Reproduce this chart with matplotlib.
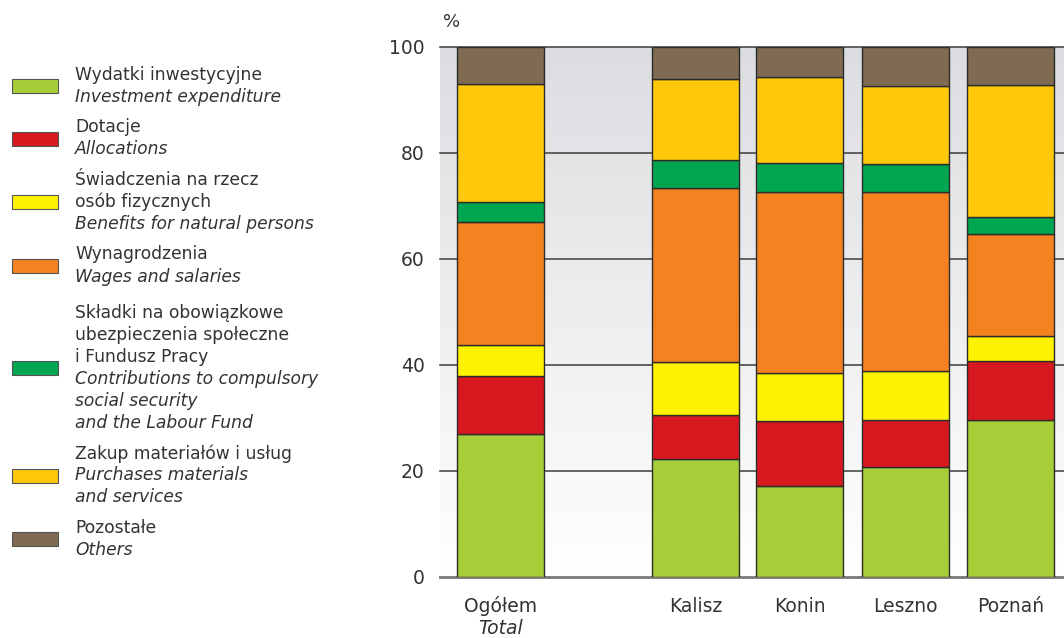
import numpy as np
import matplotlib
matplotlib.use("Agg")
import matplotlib.pyplot as plt
from matplotlib.patches import Rectangle
from matplotlib.colors import LinearSegmentedColormap

# kategorie (oś X)
kategorie = ["Ogółem", "Kalisz", "Konin", "Leszno", "Poznań"]
kategorie_en = ["Total", "", "", "", ""]

# udziały [%] kolejnych składników, od dołu słupka
wydatki_inw = [27.0, 22.3, 17.1, 20.7, 29.6]
dotacje = [10.9, 8.3, 12.4, 9.0, 11.2]
swiadczenia = [5.9, 9.9, 8.9, 9.1, 4.6]
wynagrodzenia = [23.2, 32.9, 34.3, 33.8, 19.4]
skladki = [3.8, 5.3, 5.5, 5.4, 3.1]
zakup = [22.2, 15.2, 16.1, 14.6, 24.9]
pozostale = [7.0, 6.1, 5.7, 7.4, 7.2]

serie = [wydatki_inw, dotacje, swiadczenia, wynagrodzenia, skladki, zakup, pozostale]
kolory = ["#a6ce39", "#d7191f", "#fff200", "#f58220", "#00a650", "#ffc80a", "#7f6a52"]

legenda_pl = [
    ["Wydatki inwestycyjne"],
    ["Dotacje"],
    ["Świadczenia na rzecz", "osób fizycznych"],
    ["Wynagrodzenia"],
    ["Składki na obowiązkowe", "ubezpieczenia społeczne", "i Fundusz Pracy"],
    ["Zakup materiałów i usług"],
    ["Pozostałe"],
]
legenda_en = [
    ["Investment expenditure"],
    ["Allocations"],
    ["Benefits for natural persons"],
    ["Wages and salaries"],
    ["Contributions to compulsory", "social security", "and the Labour Fund"],
    ["Purchases materials", "and services"],
    ["Others"],
]

W, H = 1064, 638
fig = plt.figure(figsize=(W / 100, H / 100), dpi=100)
ax = fig.add_axes([440 / W, 1 - 577 / H, 1 - 440 / W, 530 / H])

pozycje = np.array([0, 1.86, 2.85, 3.86, 4.86])
szer = 0.83
tekst = "#333333"

# tło z gradientem
cmap = LinearSegmentedColormap.from_list("tlo", ["#ffffff", "#dcdde0"])
grad = np.linspace(0, 1, 256).reshape(-1, 1)
ax.imshow(grad, aspect="auto", cmap=cmap, origin="lower",
          extent=[-0.58, 5.37, 0, 100], zorder=0)

# linie siatki
for y in [20, 40, 60, 80, 100]:
    ax.axhline(y, color="#4a4a4a", lw=1.2, zorder=1, clip_on=False)
ax.axhline(0, color="#777777", lw=2, zorder=1, clip_on=False)

dol = np.zeros(len(kategorie))
for wart, kol in zip(serie, kolory):
    ax.bar(pozycje, wart, szer, bottom=dol, color=kol, edgecolor="#2b2b2b",
           linewidth=1.0, zorder=3)
    dol += np.array(wart)

ax.set_xlim(-0.576, 5.367)
ax.set_ylim(0, 100)
for s in ax.spines.values():
    s.set_visible(False)
ax.set_xticks([])
ax.set_yticks([0, 20, 40, 60, 80, 100])
ax.tick_params(axis="y", length=0, pad=11, labelsize=13.5, labelcolor=tekst)

fig.text(452 / W, 1 - 22 / H, "%", fontsize=13, color=tekst,
         ha="center", va="center")

for x, pl, en in zip(pozycje, kategorie, kategorie_en):
    xf = ax.transData.transform((x, 0))[0] / W
    fig.text(xf, 1 - 606 / H, pl, ha="center", va="center", fontsize=13.5,
             color=tekst)
    if en:
        fig.text(xf, 1 - 628 / H, en, ha="center", va="center", fontsize=13.5,
                 color=tekst, style="italic")

# legenda rysowana ręcznie
krok = 22
y = 75
for i, (kol, pl, en) in enumerate(zip(kolory, legenda_pl, legenda_en)):
    linie = [(t, "normal") for t in pl] + [(t, "italic") for t in en]
    if i == 4:
        y += 6
    srodek = y + krok * (len(linie) - 1) / 2
    fig.patches.append(Rectangle((12 / W, 1 - (srodek + 7) / H), 46 / W, 14 / H,
                                 transform=fig.transFigure, facecolor=kol,
                                 edgecolor="#555555", lw=0.8))
    for t, st in linie:
        fig.text(75 / W, 1 - y / H, t, ha="left", va="center", fontsize=12.3,
                 color=tekst, style=st)
        y += krok
    y += 8.5

fig.savefig("out.png", dpi=100)
